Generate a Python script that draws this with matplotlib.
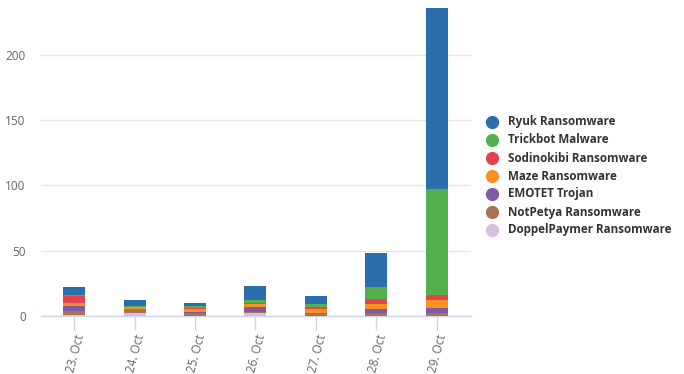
import matplotlib
matplotlib.use("Agg")
import matplotlib.pyplot as plt
import numpy as np

categories = ["23. Oct", "24. Oct", "25. Oct", "26. Oct", "27. Oct", "28. Oct", "29. Oct"]
series_names = ["Ryuk Ransomware", "Trickbot Malware", "Sodinokibi Ransomware", "Maze Ransomware",
                "EMOTET Trojan", "NotPetya Ransomware", "DoppelPaymer Ransomware"]
colors = ["#2a6fab", "#54b04f", "#e5434a", "#f9901f", "#7e5aa6", "#a97352", "#d5c0df"]

doppel   = [1, 2, 0, 2, 0, 0, 0]
notpetya = [3, 3, 2, 1, 2, 2, 2]
emotet   = [4, 0, 1, 4, 0, 3, 4]
maze     = [2, 2, 2, 2, 3, 4, 6]
sodin    = [5, 0, 1, 1, 2, 4, 4]
trickbot = [1, 1, 2, 2, 2, 9, 81]
ryuk     = [6, 4, 2, 11, 6, 26, 139]

# stacking order bottom -> top
stack = [(doppel, 6), (notpetya, 5), (emotet, 4), (maze, 3), (sodin, 2), (trickbot, 1), (ryuk, 0)]

plt.rcParams['font.family'] = ['Open Sans', 'DejaVu Sans']

fig = plt.figure(figsize=(6.84, 3.74), dpi=100)
ax = fig.add_axes([41/684, 58/374, 430/684, 308/374])

x = np.arange(len(categories))
bottom = np.zeros(len(categories))
for vals, ci in stack:
    v = np.array(vals, dtype=float)
    ax.bar(x, v, bottom=bottom, width=0.364, color=colors[ci], linewidth=0, zorder=3)
    bottom += v

ax.set_xlim(-0.551, 6.568)
ax.set_ylim(0, 236)
ax.set_yticks([0, 50, 100, 150, 200])
ax.yaxis.grid(True, color="#e6e6e6", linewidth=1)
ax.set_axisbelow(True)
for s in ["top", "right", "left"]:
    ax.spines[s].set_visible(False)
ax.spines["bottom"].set_color("#ccd6eb")
ax.spines["bottom"].set_linewidth(1)
ax.tick_params(axis="y", length=0, labelsize=8.5, labelcolor="#666666", pad=11)
ax.tick_params(axis="x", length=10, width=1, color="#ccd6eb", labelsize=8.5, labelcolor="#666666", pad=2)
ax.set_xticks(x)
ax.set_xticklabels(categories, rotation=75, ha="right", va="top", rotation_mode="anchor")

# legend
leg_y0 = 122
for i, (name, c) in enumerate(zip(series_names, colors)):
    yy = 1 - (leg_y0 + 18 * i) / 374
    fig.add_artist(plt.Line2D([492/684], [yy], marker="o", markersize=8.5, color=c,
                              linestyle="none", transform=fig.transFigure))
    fig.text(508/684, yy, name, fontsize=8.4, fontweight="bold", color="#333333",
             va="center", ha="left")

fig.savefig("out.png", dpi=100)
